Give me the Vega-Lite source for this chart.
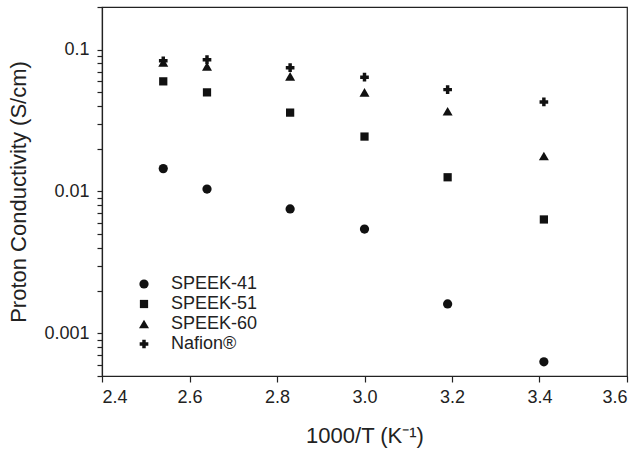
{
  "$schema": "https://vega.github.io/schema/vega-lite/v6.json",
  "width": 525,
  "height": 369,
  "autosize": "none",
  "padding": {"left": 102, "top": 7, "right": 14, "bottom": 77},
  "background": "white",
  "config": {
    "view": {"stroke": "#222", "strokeWidth": 1.2},
    "font": "Liberation Sans",
    "axis": {"domainColor": "#222", "tickColor": "#222", "labelColor": "#222", "titleColor": "#222", "grid": false, "ticks": true, "labelFontSize": 18, "titleFontSize": 22, "titleFontWeight": "normal", "labelFont": "Liberation Sans", "titleFont": "Liberation Sans"}
  },
  "data": {
    "values": [
      {"x": 2.54, "y": 0.0145, "series": "SPEEK-41"},
      {"x": 2.64, "y": 0.0104, "series": "SPEEK-41"},
      {"x": 2.83, "y": 0.00754, "series": "SPEEK-41"},
      {"x": 3.0, "y": 0.00543, "series": "SPEEK-41"},
      {"x": 3.19, "y": 0.00161, "series": "SPEEK-41"},
      {"x": 3.41, "y": 0.00063, "series": "SPEEK-41"},
      {"x": 2.54, "y": 0.0598, "series": "SPEEK-51"},
      {"x": 2.64, "y": 0.050, "series": "SPEEK-51"},
      {"x": 2.83, "y": 0.036, "series": "SPEEK-51"},
      {"x": 3.0, "y": 0.0244, "series": "SPEEK-51"},
      {"x": 3.19, "y": 0.0126, "series": "SPEEK-51"},
      {"x": 3.41, "y": 0.00635, "series": "SPEEK-51"},
      {"x": 2.54, "y": 0.0814, "series": "SPEEK-60"},
      {"x": 2.64, "y": 0.0762, "series": "SPEEK-60"},
      {"x": 2.83, "y": 0.0648, "series": "SPEEK-60"},
      {"x": 3.0, "y": 0.050, "series": "SPEEK-60"},
      {"x": 3.19, "y": 0.0368, "series": "SPEEK-60"},
      {"x": 3.41, "y": 0.0178, "series": "SPEEK-60"},
      {"x": 2.54, "y": 0.0836, "series": "Nafion®"},
      {"x": 2.64, "y": 0.085, "series": "Nafion®"},
      {"x": 2.83, "y": 0.0747, "series": "Nafion®"},
      {"x": 3.0, "y": 0.064, "series": "Nafion®"},
      {"x": 3.19, "y": 0.0523, "series": "Nafion®"},
      {"x": 3.41, "y": 0.0428, "series": "Nafion®"}
    ]
  },
  "mark": {"type": "point", "filled": true, "opacity": 1, "color": "#111"},
  "encoding": {
    "x": {
      "field": "x", "type": "quantitative",
      "scale": {"domain": [2.4, 3.6], "nice": false, "zero": false},
      "axis": {"title": "1000/T (K⁻¹)", "values": [2.4, 2.6, 2.8, 3.0, 3.2, 3.4, 3.6], "format": ".1f", "tickSize": 6, "tickWidth": 1.2, "labelPadding": 6, "titlePadding": 19, "domainWidth": 1.2}
    },
    "y": {
      "field": "y", "type": "quantitative",
      "scale": {"type": "log", "domain": [0.0005, 0.2], "nice": false},
      "axis": {
        "title": "Proton Conductivity (S/cm)",
        "values": [0.0005, 0.0006, 0.0007, 0.0008, 0.0009, 0.001, 0.002, 0.003, 0.004, 0.005, 0.006, 0.007, 0.008, 0.009, 0.01, 0.02, 0.03, 0.04, 0.05, 0.06, 0.07, 0.08, 0.09, 0.1, 0.2],
        "labelExpr": "abs(log(datum.value)/LN10 - round(log(datum.value)/LN10)) < 1e-6 ? (datum.value >= 0.1 ? '0.1' : datum.value >= 0.01 ? '0.01' : '0.001') : ''",
        "tickSize": 5,
        "tickWidth": 1.2,
        "labelPadding": 8,
        "titlePadding": 13,
        "domainWidth": 1.2
      }
    },
    "shape": {
      "field": "series", "type": "nominal",
      "scale": {"domain": ["SPEEK-41", "SPEEK-51", "SPEEK-60", "Nafion®"], "range": ["circle", "square", "triangle-up", "cross"]},
      "legend": {
        "title": null, "orient": "none", "legendX": 33, "legendY": 268, "padding": 0,
        "labelFontSize": 18, "labelFont": "Liberation Sans", "labelColor": "#222", "labelOffset": 18,
        "rowPadding": 2, "symbolFillColor": "#111", "symbolStrokeColor": "#111", "symbolOpacity": 1
      }
    },
    "size": {
      "field": "series", "type": "ordinal",
      "scale": {"type": "ordinal", "domain": ["SPEEK-41", "SPEEK-51", "SPEEK-60", "Nafion®"], "range": [85, 68, 100, 75]}
    }
  }
}
